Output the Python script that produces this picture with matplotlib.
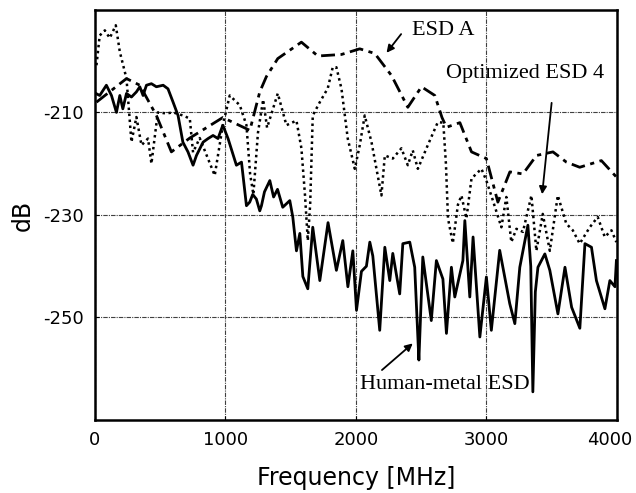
import matplotlib.pyplot as plt
import matplotlib.transforms as mtransforms

# DATA

esd_a_freq = [13, 243, 345, 472, 587, 728, 981, 1188, 1264, 1315, 1402,
              1583, 1709, 1890, 2030, 2145, 2273, 2398, 2503, 2605, 2660,
              2694, 2797, 2886, 3000, 3088, 3180, 3280, 3384, 3510, 3613,
              3715, 3881, 3996]
esd_a_db = [-208, -203.4, -204.7, -210.6, -217.7, -215, -211, -213.5, -206,
            -203, -199.5, -196.3, -199, -198.7, -197.6, -198.5, -202.8, -209,
            -205, -206.7, -211, -212.9, -212, -217.7, -219, -227.5, -221.6,
            -222, -218.4, -217.7, -219.7, -220.7, -219.4, -222.6]

opt_freq = [13, 38, 77, 115, 161, 192, 243, 281, 319, 358, 408, 434, 483,
            549, 600, 675, 728, 753, 804, 919, 981, 1034, 1111, 1162, 1190,
            1215, 1250, 1290, 1320, 1402, 1468, 1545, 1583, 1610, 1632, 1650,
            1670, 1724, 1785, 1823, 1851, 1890, 1938, 1992, 2030, 2068, 2120,
            2196, 2222, 2283, 2349, 2398, 2436, 2475, 2551, 2628, 2670, 2690,
            2706, 2743, 2782, 2809, 2847, 2886, 2962, 3000, 3050, 3115, 3153,
            3191, 3230, 3280, 3345, 3383, 3432, 3486, 3547, 3612, 3662, 3715,
            3792, 3853, 3907, 3958, 3996]
opt_db = [-200.8, -195, -194, -195.5, -193, -198.2, -203.4, -215.8, -210.9,
          -216.4, -215.1, -220, -210, -210.2, -210, -210.6, -211.2, -217.8,
          -215, -222.3, -212.5, -206.7, -208.6, -212.5, -222, -226, -214,
          -207.5, -213, -206.3, -212.5, -211.6, -217, -226, -235, -228,
          -210.6, -208, -205.3, -201.2, -201.2, -205.4, -215.1, -221, -216.4,
          -210.6, -215.8, -226.2, -218.4, -219, -217, -220.3, -217.4, -221,
          -216.4, -211.9, -212, -220, -230.7, -235.5, -228, -226.2, -230.7,
          -222.9, -221, -223.3, -227.2, -232.4, -226.5, -235.3, -232.7,
          -233.3, -226.2, -237, -229.8, -237, -226.2, -231.7, -233, -235.6,
          -232.4, -230.4, -234.3, -233, -235.3]

human_freq = [8, 38, 89, 128, 166, 192, 215, 243, 281, 319, 345, 370, 396,
              434, 472, 524, 561, 600, 638, 675, 714, 753, 779, 830, 868, 906,
              944, 981, 1021, 1085, 1124, 1162, 1187, 1210, 1238, 1264, 1277,
              1300, 1341, 1370, 1400, 1440, 1494, 1517, 1545, 1571, 1594, 1632,
              1670, 1724, 1787, 1851, 1900, 1939, 1977, 2005, 2043, 2081, 2107,
              2130, 2183, 2222, 2260, 2283, 2336, 2360, 2413, 2451, 2475, 2483,
              2513, 2578, 2617, 2667, 2694, 2732, 2758, 2820, 2835, 2873, 2898,
              2950, 3000, 3038, 3102, 3179, 3218, 3256, 3318, 3340, 3356, 3375,
              3395, 3448, 3486, 3548, 3602, 3653, 3716, 3755, 3805, 3843, 3908,
              3946, 3985, 3996]
human_db = [-206.3, -206.7, -204.7, -206.7, -210, -206.7, -209.3, -206.3,
            -207, -206, -205, -206.7, -204.7, -204.4, -205, -204.7, -205.4,
            -208, -210.6, -215.8, -217.7, -220.3, -218.4, -215.8, -215.1,
            -214.5, -215.1, -212.5, -215.1, -220.3, -219.7, -228.2, -227.5,
            -226, -226.9, -229.2, -228.2, -225.5, -223.3, -226.5, -225,
            -228.5, -227.2, -230.4, -237, -233.6, -242, -244.4, -232.4,
            -242.8, -231.5, -240.8, -235, -244, -237, -248.6, -241, -240,
            -235.3, -238, -252.5, -236.3, -242.8, -237.5, -245.4, -235.6,
            -235.3, -240.2, -253.8, -258.3, -238.2, -250.6, -238.9, -242.5,
            -253.1, -240.2, -246, -238.9, -231.1, -246, -234.3, -253.8,
            -242.1, -252.5, -236.9, -247.3, -251.2, -240.2, -232, -240,
            -264.5, -245, -240.2, -237.6, -240.8, -249.3, -240.2, -248,
            -252.1, -235.6, -236.3, -242.8, -248.3, -242.8, -244, -238.9]

x_ticks = [0, 1000, 2000, 3000, 4000]
y_ticks = [-250, -230, -210]


def main():

    plt.rcParams["axes.unicode_minus"] = False

    # FIGURE

    fig = plt.figure(figsize=(6.36, 4.93), dpi=100)

    ax = fig.add_axes([0.149, 0.148, 0.821, 0.832])

    # CURVES

    ax.plot(
        esd_a_freq,
        esd_a_db,
        color="black",
        linewidth=2.0,
        linestyle=(0, (5, 2, 1.5, 2))
    )

    ax.plot(
        opt_freq,
        opt_db,
        color="black",
        linewidth=1.8,
        linestyle=(0, (1, 1.4))
    )

    ax.plot(
        human_freq,
        human_db,
        color="black",
        linewidth=2.0
    )

    # AXES

    ax.set_xlim(0, 4000)
    ax.set_ylim(-270, -190)

    ax.set_xticks(x_ticks)
    ax.set_yticks(y_ticks)

    ax.tick_params(
        axis="both",
        direction="in",
        length=3,
        labelsize=13,
        pad=8
    )

    # keep the last x label inside the figure
    last = ax.get_xticklabels()[-1]
    last.set_transform(
        last.get_transform()
        + mtransforms.ScaledTranslation(-0.07, 0, fig.dpi_scale_trans)
    )

    ax.grid(
        True,
        color="0.25",
        linewidth=0.8,
        linestyle=(0, (4, 1, 1, 1))
    )

    for spine in ax.spines.values():

        spine.set_linewidth(1.8)

    ax.set_xlabel("Frequency [MHz]", fontsize=17, labelpad=12)
    ax.set_ylabel("dB", fontsize=17, labelpad=6)

    # ANNOTATIONS

    serif = "Liberation Serif"

    arrow = dict(
        arrowstyle="-|>",
        color="black",
        linewidth=1.3,
        mutation_scale=11
    )

    ax.text(2430, -194, "ESD A", family=serif, fontsize=16,
            ha="left", va="center")
    ax.annotate("", xy=(2222, -198.8), xytext=(2360, -194.3),
                arrowprops=arrow)

    ax.text(2690, -202.5, "Optimized ESD 4", family=serif, fontsize=16,
            ha="left", va="center")
    ax.annotate("", xy=(3425, -226.5), xytext=(3502, -207.6),
                arrowprops=arrow)

    ax.text(2031, -263.1, "Human-metal ESD", family=serif, fontsize=16,
            ha="left", va="center")
    ax.annotate("", xy=(2452, -254.7), xytext=(2184, -260.6),
                arrowprops=arrow)

    # SAVE IMAGE

    fig.savefig("out.png", dpi=100)


if __name__ == "__main__":

    main()
